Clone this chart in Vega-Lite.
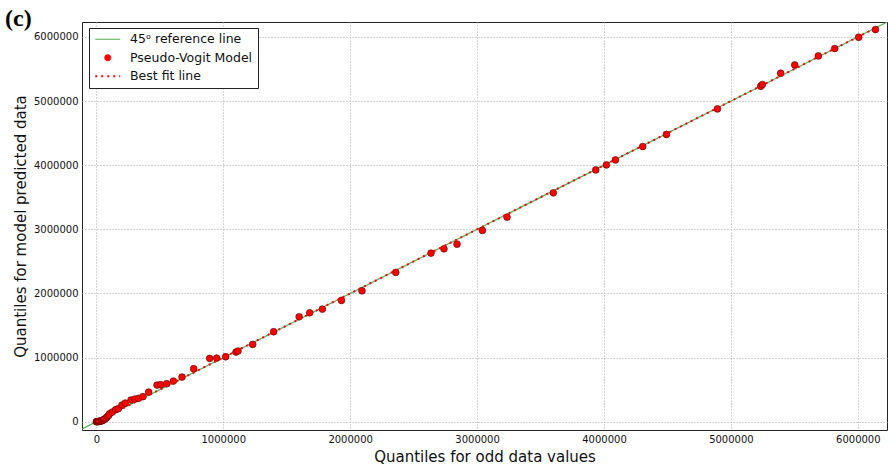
{
  "$schema": "https://vega.github.io/schema/vega-lite/v6.json",
  "width": 805,
  "height": 408,
  "autosize": {"type": "none"},
  "padding": {"left": 82, "top": 22, "right": 1, "bottom": 37},
  "background": "white",
  "title": {
    "text": "(c)",
    "anchor": "start",
    "frame": "group",
    "orient": "top",
    "offset": 0,
    "dx": -77,
    "dy": 28,
    "font": "Liberation Serif",
    "fontSize": 24,
    "fontWeight": "bold",
    "color": "#000",
    "baseline": "alphabetic"
  },
  "config": {
    "view": {"stroke": "#222", "strokeWidth": 1},
    "axis": {
      "labelFont": "DejaVu Sans",
      "labelFontSize": 10,
      "labelColor": "#111",
      "titleFont": "DejaVu Sans",
      "titleFontSize": 15,
      "titleFontWeight": "normal",
      "titleColor": "#111",
      "grid": true,
      "gridColor": "#aaaaaa",
      "gridDash": [1, 2],
      "gridWidth": 1,
      "domain": false,
      "ticks": false,
      "labelPadding": 4,
      "titlePadding": 5
    },
    "legend": {
      "orient": "none",
      "legendX": 7,
      "legendY": 6,
      "padding": 5,
      "strokeColor": "#222",
      "fillColor": "#fff",
      "labelFont": "DejaVu Sans",
      "labelFontSize": 12.5,
      "labelColor": "#111",
      "symbolSize": 100,
      "symbolOffset": 7.5,
      "labelOffset": 16,
      "rowPadding": 5.5
    }
  },
  "datasets": {
    "ref": [
      {"x": -113000, "y": -113000, "series": "45ᵒ reference line"},
      {"x": 6230000, "y": 6230000, "series": "45ᵒ reference line"}
    ],
    "fit": [
      {"x": 0, "y": 0, "series": "Best fit line"},
      {"x": 6139000, "y": 6139000, "series": "Best fit line"}
    ],
    "model": [
      {"x": 0, "y": 0, "series": "Pseudo-Vogit Model"},
      {"x": 5000, "y": 0, "series": "Pseudo-Vogit Model"},
      {"x": 10000, "y": 2000, "series": "Pseudo-Vogit Model"},
      {"x": 15000, "y": 3000, "series": "Pseudo-Vogit Model"},
      {"x": 20000, "y": 5000, "series": "Pseudo-Vogit Model"},
      {"x": 25000, "y": 6000, "series": "Pseudo-Vogit Model"},
      {"x": 30000, "y": 9000, "series": "Pseudo-Vogit Model"},
      {"x": 36000, "y": 12000, "series": "Pseudo-Vogit Model"},
      {"x": 42000, "y": 16000, "series": "Pseudo-Vogit Model"},
      {"x": 48000, "y": 21000, "series": "Pseudo-Vogit Model"},
      {"x": 55000, "y": 28000, "series": "Pseudo-Vogit Model"},
      {"x": 62000, "y": 37000, "series": "Pseudo-Vogit Model"},
      {"x": 70000, "y": 48000, "series": "Pseudo-Vogit Model"},
      {"x": 79000, "y": 62000, "series": "Pseudo-Vogit Model"},
      {"x": 88000, "y": 80000, "series": "Pseudo-Vogit Model"},
      {"x": 97000, "y": 100000, "series": "Pseudo-Vogit Model"},
      {"x": 105000, "y": 125000, "series": "Pseudo-Vogit Model"},
      {"x": 126000, "y": 151000, "series": "Pseudo-Vogit Model"},
      {"x": 152000, "y": 187000, "series": "Pseudo-Vogit Model"},
      {"x": 173000, "y": 203000, "series": "Pseudo-Vogit Model"},
      {"x": 202000, "y": 260000, "series": "Pseudo-Vogit Model"},
      {"x": 228000, "y": 291000, "series": "Pseudo-Vogit Model"},
      {"x": 273000, "y": 338000, "series": "Pseudo-Vogit Model"},
      {"x": 304000, "y": 354000, "series": "Pseudo-Vogit Model"},
      {"x": 333000, "y": 365000, "series": "Pseudo-Vogit Model"},
      {"x": 367000, "y": 390000, "series": "Pseudo-Vogit Model"},
      {"x": 412000, "y": 463000, "series": "Pseudo-Vogit Model"},
      {"x": 478000, "y": 572000, "series": "Pseudo-Vogit Model"},
      {"x": 507000, "y": 577000, "series": "Pseudo-Vogit Model"},
      {"x": 554000, "y": 592000, "series": "Pseudo-Vogit Model"},
      {"x": 607000, "y": 634000, "series": "Pseudo-Vogit Model"},
      {"x": 675000, "y": 697000, "series": "Pseudo-Vogit Model"},
      {"x": 767000, "y": 826000, "series": "Pseudo-Vogit Model"},
      {"x": 893000, "y": 988000, "series": "Pseudo-Vogit Model"},
      {"x": 948000, "y": 993000, "series": "Pseudo-Vogit Model"},
      {"x": 1019000, "y": 1013000, "series": "Pseudo-Vogit Model"},
      {"x": 1100000, "y": 1086000, "series": "Pseudo-Vogit Model"},
      {"x": 1116000, "y": 1102000, "series": "Pseudo-Vogit Model"},
      {"x": 1232000, "y": 1206000, "series": "Pseudo-Vogit Model"},
      {"x": 1397000, "y": 1403000, "series": "Pseudo-Vogit Model"},
      {"x": 1598000, "y": 1636000, "series": "Pseudo-Vogit Model"},
      {"x": 1681000, "y": 1699000, "series": "Pseudo-Vogit Model"},
      {"x": 1781000, "y": 1756000, "series": "Pseudo-Vogit Model"},
      {"x": 1931000, "y": 1892000, "series": "Pseudo-Vogit Model"},
      {"x": 2093000, "y": 2042000, "series": "Pseudo-Vogit Model"},
      {"x": 2359000, "y": 2328000, "series": "Pseudo-Vogit Model"},
      {"x": 2637000, "y": 2629000, "series": "Pseudo-Vogit Model"},
      {"x": 2739000, "y": 2696000, "series": "Pseudo-Vogit Model"},
      {"x": 2842000, "y": 2769000, "series": "Pseudo-Vogit Model"},
      {"x": 3042000, "y": 2983000, "series": "Pseudo-Vogit Model"},
      {"x": 3236000, "y": 3190000, "series": "Pseudo-Vogit Model"},
      {"x": 3601000, "y": 3569000, "series": "Pseudo-Vogit Model"},
      {"x": 3935000, "y": 3927000, "series": "Pseudo-Vogit Model"},
      {"x": 4019000, "y": 4005000, "series": "Pseudo-Vogit Model"},
      {"x": 4090000, "y": 4083000, "series": "Pseudo-Vogit Model"},
      {"x": 4305000, "y": 4291000, "series": "Pseudo-Vogit Model"},
      {"x": 4492000, "y": 4479000, "series": "Pseudo-Vogit Model"},
      {"x": 4894000, "y": 4878000, "series": "Pseudo-Vogit Model"},
      {"x": 5235000, "y": 5231000, "series": "Pseudo-Vogit Model"},
      {"x": 5248000, "y": 5258000, "series": "Pseudo-Vogit Model"},
      {"x": 5392000, "y": 5434000, "series": "Pseudo-Vogit Model"},
      {"x": 5503000, "y": 5563000, "series": "Pseudo-Vogit Model"},
      {"x": 5689000, "y": 5704000, "series": "Pseudo-Vogit Model"},
      {"x": 5818000, "y": 5819000, "series": "Pseudo-Vogit Model"},
      {"x": 6007000, "y": 5995000, "series": "Pseudo-Vogit Model"},
      {"x": 6139000, "y": 6115000, "series": "Pseudo-Vogit Model"}
    ]
  },
  "layer": [
    {
      "data": {"name": "ref"},
      "mark": {"type": "line", "strokeWidth": 1.2, "clip": true},
      "encoding": {
        "x": {
          "field": "x", "type": "quantitative",
          "scale": {"domain": [-113000, 6230000], "nice": false, "zero": false},
          "axis": {"title": "Quantiles for odd data values", "values": [0, 1000000, 2000000, 3000000, 4000000, 5000000, 6000000], "format": "d"}
        },
        "y": {
          "field": "y", "type": "quantitative",
          "scale": {"domain": [-129000, 6233000], "nice": false, "zero": false},
          "axis": {"title": "Quantiles for model predicted data", "values": [0, 1000000, 2000000, 3000000, 4000000, 5000000, 6000000], "format": "d"}
        },
        "color": {
          "field": "series", "type": "nominal",
          "scale": {"domain": ["45ᵒ reference line", "Pseudo-Vogit Model", "Best fit line"], "range": ["#4fae4f", "#ff0000", "#ff0000"]},
          "legend": {
            "title": null,
            "encode": {
              "symbols": {
                "update": {
                  "shape": {"signal": "datum.value === 'Pseudo-Vogit Model' ? 'circle' : 'stroke'"},
                  "size": {"signal": "datum.value === 'Pseudo-Vogit Model' ? 40 : 625"},
                  "fill": {"signal": "datum.value === 'Pseudo-Vogit Model' ? '#ff0000' : 'transparent'"},
                  "stroke": {"signal": "datum.value === 'Pseudo-Vogit Model' ? '#4a0000' : (datum.value === 'Best fit line' ? '#ff0000' : '#4fae4f')"},
                  "strokeWidth": {"signal": "datum.value === 'Pseudo-Vogit Model' ? 0.6 : (datum.value === 'Best fit line' ? 2 : 1.2)"},
                  "strokeDash": {"signal": "datum.value === 'Best fit line' ? [2, 4] : [1, 0]"},
                  "opacity": {"value": 1}
                }
              }
            }
          }
        }
      }
    },
    {
      "data": {"name": "model"},
      "mark": {"type": "point", "filled": true, "size": 46, "stroke": "#4a0000", "strokeWidth": 0.6, "opacity": 1},
      "encoding": {
        "x": {"field": "x", "type": "quantitative", "scale": {"domain": [-113000, 6230000], "nice": false, "zero": false}},
        "y": {"field": "y", "type": "quantitative", "scale": {"domain": [-129000, 6233000], "nice": false, "zero": false}},
        "color": {"field": "series", "type": "nominal", "scale": {"domain": ["45ᵒ reference line", "Pseudo-Vogit Model", "Best fit line"], "range": ["#4fae4f", "#ff0000", "#ff0000"]}}
      }
    },
    {
      "data": {"name": "fit"},
      "mark": {"type": "line", "strokeWidth": 2, "strokeDash": [2, 4]},
      "encoding": {
        "x": {"field": "x", "type": "quantitative", "scale": {"domain": [-113000, 6230000], "nice": false, "zero": false}},
        "y": {"field": "y", "type": "quantitative", "scale": {"domain": [-129000, 6233000], "nice": false, "zero": false}},
        "color": {"field": "series", "type": "nominal", "scale": {"domain": ["45ᵒ reference line", "Pseudo-Vogit Model", "Best fit line"], "range": ["#4fae4f", "#ff0000", "#ff0000"]}}
      }
    }
  ]
}
